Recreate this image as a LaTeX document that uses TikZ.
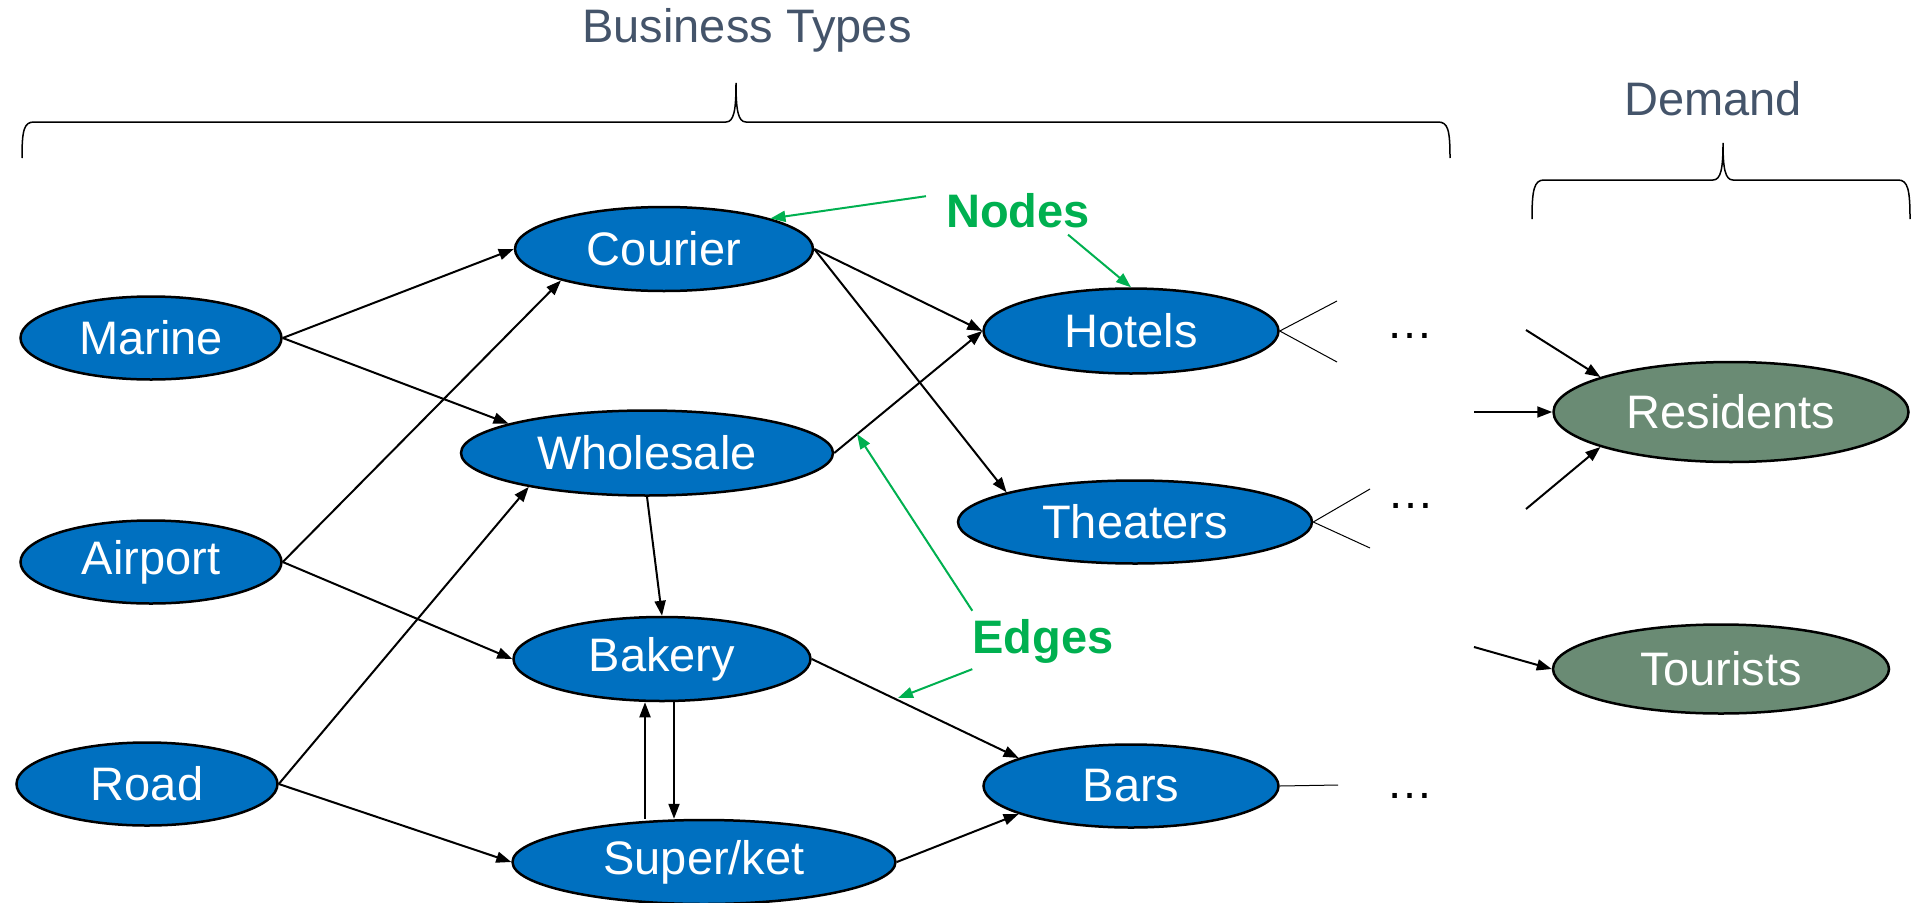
\documentclass[tikz,border=0pt]{standalone}
\usepackage{fontspec}
\setmainfont{Liberation Sans}
\usetikzlibrary{shapes.geometric,arrows.meta}
\definecolor{nodeblue}{HTML}{0070C0}
\definecolor{demgreen}{HTML}{6A8B74}
\definecolor{lblgreen}{HTML}{00B050}
\definecolor{headgray}{HTML}{44546A}
\begin{document}
\begin{tikzpicture}[x=1pt,y=-1pt,
  bnode/.style={ellipse, draw=black, line width=2.5pt, fill=nodeblue, text=white, inner sep=0pt, font=\fontsize{47}{50}\selectfont},
  dnode/.style={bnode, fill=demgreen},
  edge/.style={line width=2pt, -{Triangle[length=15pt,width=11pt]}},
  gedge/.style={line width=2pt, draw=lblgreen, -{Triangle[length=15pt,width=11pt]}},
  stub/.style={line width=1pt},
  bracepath/.style={line width=1.5pt},
  head/.style={text=headgray, font=\fontsize{47}{50}\selectfont, inner sep=0pt, anchor=base},
  glbl/.style={text=lblgreen, font=\fontsize{47}{50}\selectfont\bfseries, inner sep=0pt, anchor=base},
  dots/.style={font=\fontsize{47}{50}\selectfont, inner sep=0pt, anchor=base},
]
\useasboundingbox (0,0) rectangle (1911,902);

% headings and braces
\node[head] (title1) at (747,42) {Business Types};
\node[head] (title2) at (1713,115) {Demand};
\draw[bracepath] (22,158) .. controls (22,130) and (24,122) .. (34,122) -- (726,122)
  .. controls (734,122) and (736,110) .. (736,83)
  .. controls (736,110) and (738,122) .. (746,122) -- (1438,122)
  .. controls (1448,122) and (1450,130) .. (1450,158);
\draw[bracepath] (1532,219) .. controls (1532,190) and (1534,180) .. (1544,180) -- (1713,180)
  .. controls (1721,180) and (1723,168) .. (1723,143)
  .. controls (1723,168) and (1725,180) .. (1733,180) -- (1898,180)
  .. controls (1908,180) and (1910,190) .. (1910,219);

% nodes
\node[bnode, minimum width=261, minimum height=83] (marine) at (151,338) {Marine};
\node[bnode, minimum width=261, minimum height=83] (airport) at (151,562) {Airport};
\node[bnode, minimum width=261, minimum height=83] (road) at (147,784) {Road};
\node[bnode, minimum width=298, minimum height=84] (courier) at (664,249) {Courier};
\node[bnode, minimum width=372, minimum height=85] (wholesale) at (647,453) {Wholesale};
\node[bnode, minimum width=297, minimum height=84] (bakery) at (662,659) {Bakery};
\node[bnode, minimum width=383, minimum height=84] (superket) at (704,862) {Super/ket};
\node[bnode, minimum width=295, minimum height=85] (hotels) at (1131,331) {Hotels};
\node[bnode, minimum width=354, minimum height=83] (theaters) at (1135,522) {Theaters};
\node[bnode, minimum width=295, minimum height=83] (bars) at (1131,786) {Bars};
\node[dnode, minimum width=355, minimum height=100] (residents) at (1731,412) {Residents};
\node[dnode, minimum width=336, minimum height=89] (tourists) at (1721,669) {Tourists};

% labels
\node[glbl] (nodeslbl) at (1018,227) {Nodes};
\node[glbl] (edgeslbl) at (1043,653) {Edges};
\node[dots] (dots1) at (1410,338) {…};
\node[dots] (dots2) at (1411,508) {…};
\node[dots] (dots3) at (1410,798) {…};

% edges
\draw[edge] (marine.east) -- (courier.west);
\draw[edge] (marine.east) -- (wholesale.168);
\draw[edge] (airport.east) -- (courier.197);
\draw[edge] (airport.east) -- (bakery.west);
\draw[edge] (road.east) -- (wholesale.196);
\draw[edge] (road.east) -- (superket.west);
\draw[edge] (courier.east) -- (hotels.west);
\draw[edge] (courier.east) -- (theaters.167);
\draw[edge] (wholesale.east) -- (hotels.west);
\draw[edge] (wholesale.south) -- (bakery.north);
\draw[edge] ([xshift=12pt]bakery.south) -- ([xshift=12pt]bakery.south |- superket.north);
\draw[edge] ([xshift=-17pt]bakery.south |- superket.north) -- ([xshift=-17pt]bakery.south);
\draw[edge] (bakery.east) -- (bars.166);
\draw[edge] (superket.east) -- (bars.194);

% stubs
\coordinate (h1) at (1337,301);
\coordinate (h2) at (1337,362);
\coordinate (t1) at (1370,489);
\coordinate (t2) at (1370,548);
\coordinate (b1) at (1338,785);
\draw[stub] (h1) -- (hotels.east) -- (h2);
\draw[stub] (t1) -- (theaters.east) -- (t2);
\draw[stub] (bars.east) -- (b1);

% demand arrows
\coordinate (r1) at (1526,330);
\coordinate (r2) at (1474,412);
\coordinate (r3) at (1526,509);
\coordinate (q1) at (1474,647);
\draw[edge] (r1) -- (residents.165);
\draw[edge] (r2) -- (residents.west);
\draw[edge] (r3) -- (residents.195);
\draw[edge] (q1) -- (tourists.west);

% green pointers
\coordinate (e1) at (857,434);
\coordinate (e2) at (898,698);
\draw[gedge] ([xshift=-20pt,yshift=14pt]nodeslbl.west) -- (courier.16);
\draw[gedge] ([xshift=-22pt,yshift=-7pt]nodeslbl.south east) -- (hotels.north);
\draw[gedge] ([yshift=8pt]edgeslbl.north west) -- (e1);
\draw[gedge] ([yshift=-6pt]edgeslbl.south west) -- (e2);
\end{tikzpicture}
\end{document}
